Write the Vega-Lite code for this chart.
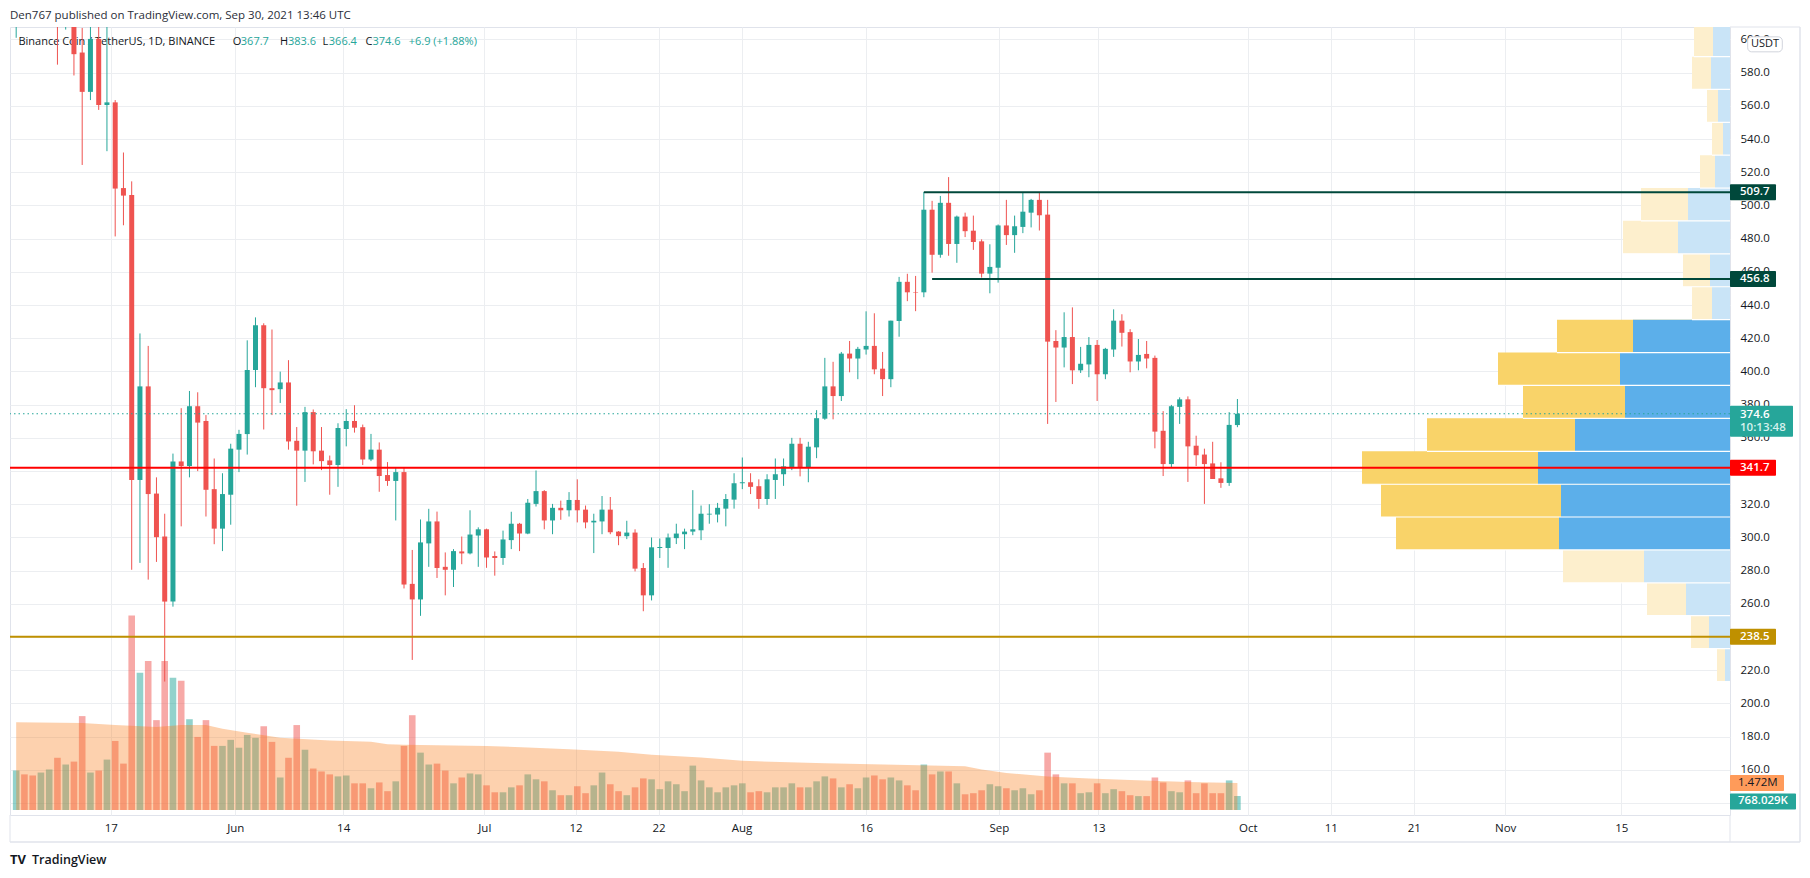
{
"$schema": "https://vega.github.io/schema/vega-lite/v6.json",
"width": 1720, "height": 788,
"autosize": {"type": "none"},
"padding": {"left": 10, "top": 27, "right": 80, "bottom": 63},
"background": "#ffffff",
"config": {"font": "Open Sans", "view": {"stroke": "#E0E3EB", "strokeWidth": 1}},
"title": {"text": "Den767 published on TradingView.com, Sep 30, 2021 13:46 UTC", "anchor": "start", "frame": "group", "offset": -1, "baseline": "middle", "fontSize": 11.5, "fontWeight": "normal", "color": "#2A2E39", "font": "Open Sans"},
"datasets": {
"candles": [
{"d":"2021-05-05","o":612,"h":665,"l":604,"c":655,"v":2.16},
{"d":"2021-05-06","o":655,"h":668,"l":628,"c":640,"v":1.95},
{"d":"2021-05-07","o":640,"h":655,"l":618,"c":630,"v":1.89},
{"d":"2021-05-08","o":630,"h":675,"l":625,"c":665,"v":2.05},
{"d":"2021-05-09","o":665,"h":672,"l":630,"c":668,"v":2.22},
{"d":"2021-05-10","o":668,"h":690,"l":587.6,"c":615,"v":2.86},
{"d":"2021-05-11","o":615,"h":645,"l":609,"c":640,"v":2.49},
{"d":"2021-05-12","o":640,"h":648,"l":581,"c":594,"v":2.65},
{"d":"2021-05-13","o":595,"h":610,"l":526.4,"c":571,"v":5.14},
{"d":"2021-05-14","o":571,"h":620,"l":566,"c":603.3,"v":2.05},
{"d":"2021-05-15","o":603.3,"h":612,"l":560,"c":563,"v":2.16},
{"d":"2021-05-16","o":563,"h":615,"l":534.8,"c":564.6,"v":2.76},
{"d":"2021-05-17","o":564.6,"h":566,"l":482.8,"c":512,"v":3.78},
{"d":"2021-05-18","o":512.3,"h":534,"l":489.6,"c":507.7,"v":2.54},
{"d":"2021-05-19","o":508,"h":516.4,"l":279.4,"c":334.2,"v":10.65},
{"d":"2021-05-20","o":334.2,"h":423.6,"l":283.6,"c":391.3,"v":7.51},
{"d":"2021-05-21","o":391.3,"h":416,"l":273.4,"c":325.6,"v":8.16},
{"d":"2021-05-22","o":325.9,"h":335.8,"l":284.2,"c":299.3,"v":4.92},
{"d":"2021-05-23","o":299.7,"h":313.6,"l":211.2,"c":260,"v":8.16},
{"d":"2021-05-24","o":260,"h":350.3,"l":256.9,"c":345.5,"v":7.24},
{"d":"2021-05-25","o":345.5,"h":378,"l":305.9,"c":342.7,"v":7.08},
{"d":"2021-05-26","o":342.7,"h":388.5,"l":335.8,"c":379.2,"v":4.97},
{"d":"2021-05-27","o":379.2,"h":387.7,"l":339.6,"c":369.2,"v":4.0},
{"d":"2021-05-28","o":370.2,"h":373.8,"l":311.9,"c":328.2,"v":4.92},
{"d":"2021-05-29","o":328.6,"h":347.3,"l":295,"c":304.5,"v":3.51},
{"d":"2021-05-30","o":304.5,"h":338.3,"l":290.8,"c":325.6,"v":3.51},
{"d":"2021-05-31","o":325.2,"h":356.3,"l":306.9,"c":353.3,"v":3.84},
{"d":"2021-06-01","o":352.7,"h":364.8,"l":339,"c":362.3,"v":3.41},
{"d":"2021-06-02","o":362.2,"h":419.4,"l":349.7,"c":401.3,"v":4.11},
{"d":"2021-06-03","o":401.3,"h":433.4,"l":390.8,"c":428.6,"v":3.95},
{"d":"2021-06-04","o":428.6,"h":429.8,"l":365,"c":390.2,"v":4.59},
{"d":"2021-06-05","o":390.2,"h":426,"l":373.8,"c":389,"v":3.73},
{"d":"2021-06-06","o":389.6,"h":400.3,"l":381.2,"c":393.7,"v":1.78},
{"d":"2021-06-07","o":393.7,"h":407.3,"l":352.7,"c":357.7,"v":2.86},
{"d":"2021-06-08","o":358.1,"h":366.5,"l":318.5,"c":352.1,"v":4.65},
{"d":"2021-06-09","o":352.1,"h":378.8,"l":333,"c":375.6,"v":3.30},
{"d":"2021-06-10","o":375.6,"h":377.2,"l":343.7,"c":351.7,"v":2.27},
{"d":"2021-06-11","o":352.1,"h":366.5,"l":340.2,"c":345.7,"v":2.11},
{"d":"2021-06-12","o":346.1,"h":349.1,"l":325.2,"c":343.3,"v":1.95},
{"d":"2021-06-13","o":343.3,"h":368.8,"l":330,"c":365.9,"v":1.84},
{"d":"2021-06-14","o":365.3,"h":377.4,"l":354.7,"c":370.2,"v":1.89},
{"d":"2021-06-15","o":370.2,"h":379.8,"l":363.1,"c":366.1,"v":1.46},
{"d":"2021-06-16","o":366.4,"h":368,"l":343.3,"c":346.7,"v":1.46},
{"d":"2021-06-17","o":346.7,"h":362.3,"l":345.7,"c":352.7,"v":1.19},
{"d":"2021-06-18","o":352.7,"h":357.1,"l":327,"c":336.6,"v":1.51},
{"d":"2021-06-19","o":337.2,"h":345.1,"l":330.6,"c":333.6,"v":1.03},
{"d":"2021-06-20","o":333.6,"h":341.5,"l":309.5,"c":339,"v":1.57},
{"d":"2021-06-21","o":339,"h":341.9,"l":268,"c":270.4,"v":3.51},
{"d":"2021-06-22","o":270.8,"h":291.5,"l":224.4,"c":261.3,"v":5.19},
{"d":"2021-06-23","o":261.3,"h":310.1,"l":251.3,"c":296.1,"v":3.14},
{"d":"2021-06-24","o":295.5,"h":316.6,"l":281.2,"c":308.9,"v":2.49},
{"d":"2021-06-25","o":308.9,"h":314.9,"l":274.4,"c":280.5,"v":2.54},
{"d":"2021-06-26","o":281.2,"h":290,"l":263.8,"c":279.4,"v":2.16},
{"d":"2021-06-27","o":279.4,"h":292,"l":268.9,"c":290.8,"v":1.46},
{"d":"2021-06-28","o":290.6,"h":299.7,"l":282.8,"c":289.4,"v":1.78},
{"d":"2021-06-29","o":289.4,"h":315.7,"l":288.8,"c":300.9,"v":2.0},
{"d":"2021-06-30","o":300.3,"h":305.3,"l":281.2,"c":304.1,"v":1.95},
{"d":"2021-07-01","o":304.1,"h":304.5,"l":280.6,"c":286.9,"v":1.35},
{"d":"2021-07-02","o":287.8,"h":290.6,"l":275.8,"c":286.6,"v":0.97},
{"d":"2021-07-03","o":286.6,"h":303.3,"l":282.4,"c":297.9,"v":0.97},
{"d":"2021-07-04","o":297.5,"h":314.8,"l":292,"c":307.5,"v":1.24},
{"d":"2021-07-05","o":307.5,"h":308,"l":290.8,"c":301.5,"v":1.35},
{"d":"2021-07-06","o":301.5,"h":322.6,"l":301.1,"c":320.3,"v":1.95},
{"d":"2021-07-07","o":319.6,"h":340,"l":318,"c":327.4,"v":1.68},
{"d":"2021-07-08","o":327.4,"h":328,"l":304.1,"c":309.5,"v":1.57},
{"d":"2021-07-09","o":309.5,"h":319.6,"l":301.1,"c":317.2,"v":1.08},
{"d":"2021-07-10","o":317.2,"h":321.6,"l":309.9,"c":315.7,"v":0.81},
{"d":"2021-07-11","o":315.7,"h":326.8,"l":311.9,"c":322,"v":0.81},
{"d":"2021-07-12","o":322,"h":334.6,"l":308.3,"c":315.7,"v":1.30},
{"d":"2021-07-13","o":316.1,"h":318.6,"l":304.7,"c":308.3,"v":0.92},
{"d":"2021-07-14","o":308.3,"h":313.6,"l":289.6,"c":309.3,"v":1.35},
{"d":"2021-07-15","o":308.9,"h":324.4,"l":301.1,"c":316.1,"v":2.05},
{"d":"2021-07-16","o":316.1,"h":323.8,"l":301.1,"c":302.3,"v":1.41},
{"d":"2021-07-17","o":302.7,"h":303,"l":294.4,"c":299.9,"v":1.03},
{"d":"2021-07-18","o":299.9,"h":309.3,"l":298.1,"c":302.1,"v":0.81},
{"d":"2021-07-19","o":302.1,"h":304.1,"l":278.4,"c":280.1,"v":1.24},
{"d":"2021-07-20","o":280.5,"h":283.5,"l":254.1,"c":263.8,"v":1.73},
{"d":"2021-07-21","o":263.8,"h":299.1,"l":260.7,"c":293.1,"v":1.68},
{"d":"2021-07-22","o":292.7,"h":298.5,"l":286.6,"c":293.3,"v":1.14},
{"d":"2021-07-23","o":292.7,"h":301.5,"l":280.6,"c":299.1,"v":1.57},
{"d":"2021-07-24","o":298.7,"h":307.5,"l":295.1,"c":301.5,"v":1.41},
{"d":"2021-07-25","o":301.1,"h":304.5,"l":292,"c":302.7,"v":1.03},
{"d":"2021-07-26","o":302.7,"h":328,"l":300.5,"c":304.1,"v":2.43},
{"d":"2021-07-27","o":303.5,"h":318.6,"l":297.5,"c":313.6,"v":1.62},
{"d":"2021-07-28","o":313.1,"h":319.4,"l":307.5,"c":313.6,"v":1.24},
{"d":"2021-07-29","o":313.1,"h":320.2,"l":308.3,"c":317.2,"v":0.97},
{"d":"2021-07-30","o":316.7,"h":325.6,"l":305.9,"c":322.6,"v":1.24},
{"d":"2021-07-31","o":322.2,"h":338.3,"l":316.7,"c":332.2,"v":1.35},
{"d":"2021-08-01","o":332.2,"h":347.9,"l":328.6,"c":332.8,"v":1.46},
{"d":"2021-08-02","o":332.8,"h":338.3,"l":325.6,"c":330,"v":0.97},
{"d":"2021-08-03","o":330.4,"h":334.6,"l":316.6,"c":322.6,"v":1.03},
{"d":"2021-08-04","o":322.6,"h":337.7,"l":319,"c":334.6,"v":0.97},
{"d":"2021-08-05","o":334.2,"h":347.3,"l":322.6,"c":337.7,"v":1.24},
{"d":"2021-08-06","o":337.7,"h":347.3,"l":330.6,"c":342.5,"v":1.24},
{"d":"2021-08-07","o":342.1,"h":359.9,"l":340.2,"c":356.3,"v":1.46},
{"d":"2021-08-08","o":356.3,"h":359.9,"l":336.4,"c":342.1,"v":1.24},
{"d":"2021-08-09","o":341.5,"h":357.5,"l":332.8,"c":354.5,"v":1.24},
{"d":"2021-08-10","o":354.1,"h":376.8,"l":347.5,"c":371.9,"v":1.57},
{"d":"2021-08-11","o":371.6,"h":408.7,"l":370.9,"c":391.3,"v":1.84},
{"d":"2021-08-12","o":391.3,"h":406.3,"l":371.2,"c":385.4,"v":1.73},
{"d":"2021-08-13","o":385.4,"h":412.3,"l":382.4,"c":411.3,"v":1.24},
{"d":"2021-08-14","o":411.3,"h":419,"l":399.9,"c":408.3,"v":1.41},
{"d":"2021-08-15","o":408.3,"h":415.4,"l":395.7,"c":414.2,"v":1.19},
{"d":"2021-08-16","o":413.8,"h":437.1,"l":410.7,"c":416,"v":1.78},
{"d":"2021-08-17","o":416,"h":435.9,"l":398.7,"c":401.7,"v":1.89},
{"d":"2021-08-18","o":402.1,"h":412.3,"l":385.4,"c":395.7,"v":1.68},
{"d":"2021-08-19","o":395.7,"h":431.4,"l":390.8,"c":431.4,"v":1.78},
{"d":"2021-08-20","o":431.2,"h":458.1,"l":421.6,"c":455.1,"v":1.62},
{"d":"2021-08-21","o":455.1,"h":460,"l":443.3,"c":448.7,"v":1.35},
{"d":"2021-08-22","o":448.9,"h":458.7,"l":437.2,"c":448.6,"v":1.08},
{"d":"2021-08-23","o":448.7,"h":509.9,"l":445.7,"c":499.1,"v":2.49},
{"d":"2021-08-24","o":499.1,"h":504.5,"l":460.7,"c":471.6,"v":1.95},
{"d":"2021-08-25","o":471.6,"h":507.5,"l":469.8,"c":503.3,"v":2.11},
{"d":"2021-08-26","o":503.3,"h":519,"l":471,"c":478.2,"v":2.11},
{"d":"2021-08-27","o":478.2,"h":495.5,"l":466.7,"c":494.9,"v":1.46},
{"d":"2021-08-28","o":494.9,"h":497.3,"l":482.4,"c":486,"v":0.86},
{"d":"2021-08-29","o":486.3,"h":495.5,"l":474.6,"c":479.4,"v":0.92},
{"d":"2021-08-30","o":479.8,"h":481,"l":457.7,"c":460.1,"v":1.08},
{"d":"2021-08-31","o":460.1,"h":478,"l":448.1,"c":464.2,"v":1.41},
{"d":"2021-09-01","o":463.7,"h":490.1,"l":454.6,"c":489.5,"v":1.30},
{"d":"2021-09-02","o":489.5,"h":505.1,"l":477.6,"c":483.6,"v":1.19},
{"d":"2021-09-03","o":483.6,"h":495.5,"l":472.8,"c":489,"v":1.08},
{"d":"2021-09-04","o":488.6,"h":509.9,"l":484.8,"c":497.9,"v":1.19},
{"d":"2021-09-05","o":497.3,"h":505.7,"l":488.3,"c":505.1,"v":0.86},
{"d":"2021-09-06","o":505.1,"h":509.9,"l":486.4,"c":495.7,"v":1.08},
{"d":"2021-09-07","o":496.1,"h":505.1,"l":368.4,"c":418.6,"v":3.14},
{"d":"2021-09-08","o":419,"h":425.6,"l":381.8,"c":415,"v":1.95},
{"d":"2021-09-09","o":415,"h":436.5,"l":402.9,"c":421.4,"v":1.46},
{"d":"2021-09-10","o":421.4,"h":439.5,"l":392.7,"c":401.1,"v":1.46},
{"d":"2021-09-11","o":401.1,"h":415.4,"l":399.5,"c":405.1,"v":0.92},
{"d":"2021-09-12","o":404.7,"h":421.4,"l":396.9,"c":416.6,"v":0.97},
{"d":"2021-09-13","o":416.6,"h":419.6,"l":382.4,"c":398.7,"v":1.46},
{"d":"2021-09-14","o":398.7,"h":414.8,"l":395.7,"c":414.2,"v":0.92},
{"d":"2021-09-15","o":413.8,"h":438.3,"l":409.3,"c":431.4,"v":1.14},
{"d":"2021-09-16","o":431.4,"h":435.3,"l":415.6,"c":424,"v":1.03},
{"d":"2021-09-17","o":424.4,"h":426.2,"l":399.9,"c":406.5,"v":0.81},
{"d":"2021-09-18","o":406.5,"h":420.2,"l":401.1,"c":410.5,"v":0.76},
{"d":"2021-09-19","o":411.1,"h":419,"l":402.3,"c":408.3,"v":0.76},
{"d":"2021-09-20","o":408.7,"h":410.1,"l":353.5,"c":363.7,"v":1.78},
{"d":"2021-09-21","o":364.2,"h":376.2,"l":336.6,"c":343.9,"v":1.51},
{"d":"2021-09-22","o":343.9,"h":380,"l":342.1,"c":379.2,"v":1.03},
{"d":"2021-09-23","o":378.8,"h":384.6,"l":368.4,"c":383.4,"v":0.97},
{"d":"2021-09-24","o":383.4,"h":385.2,"l":333,"c":354.7,"v":1.62},
{"d":"2021-09-25","o":355.1,"h":361.2,"l":342.7,"c":349.3,"v":0.92},
{"d":"2021-09-26","o":349.7,"h":353.3,"l":319.6,"c":343.9,"v":1.46},
{"d":"2021-09-27","o":344.3,"h":357.5,"l":334.8,"c":334.8,"v":0.92},
{"d":"2021-09-28","o":335.2,"h":345,"l":329.4,"c":332.4,"v":0.92},
{"d":"2021-09-29","o":332.4,"h":375.6,"l":330.6,"c":367.8,"v":1.62},
{"d":"2021-09-30","o":367.7,"h":383.6,"l":366.4,"c":374.6,"v":0.768}
],
"ma": [
{"d":"2021-05-05","ma":4.81},{"d":"2021-05-13","ma":4.76},{"d":"2021-05-17","ma":4.65},{"d":"2021-05-22","ma":4.54},
{"d":"2021-05-25","ma":4.65},{"d":"2021-05-28","ma":4.65},{"d":"2021-05-30","ma":4.45},{"d":"2021-06-02","ma":4.23},
{"d":"2021-06-06","ma":3.95},{"d":"2021-06-12","ma":3.80},{"d":"2021-06-17","ma":3.73},{"d":"2021-06-19","ma":3.60},
{"d":"2021-06-21","ma":3.57},{"d":"2021-07-01","ma":3.51},{"d":"2021-07-06","ma":3.42},{"d":"2021-07-11","ma":3.33},
{"d":"2021-07-17","ma":3.19},{"d":"2021-07-21","ma":3.03},{"d":"2021-07-27","ma":2.88},{"d":"2021-08-01","ma":2.69},
{"d":"2021-08-11","ma":2.56},{"d":"2021-08-21","ma":2.47},{"d":"2021-08-28","ma":2.39},{"d":"2021-08-30","ma":2.22},
{"d":"2021-09-02","ma":2.02},{"d":"2021-09-07","ma":1.84},{"d":"2021-09-12","ma":1.73},{"d":"2021-09-17","ma":1.64},
{"d":"2021-09-24","ma":1.53},{"d":"2021-09-30","ma":1.472}
],
"profile": [
{"lo":592.5,"hi":612.6,"vol":36,"upvol":17,"va":false},
{"lo":572.5,"hi":592.5,"vol":38,"upvol":19,"va":false},
{"lo":552.4,"hi":572.5,"vol":23,"upvol":12,"va":false},
{"lo":532.4,"hi":552.4,"vol":18,"upvol":7,"va":false},
{"lo":512.3,"hi":532.4,"vol":30,"upvol":15,"va":false},
{"lo":492.3,"hi":512.3,"vol":89,"upvol":42,"va":false},
{"lo":472.2,"hi":492.3,"vol":107,"upvol":52,"va":false},
{"lo":452.1,"hi":472.2,"vol":47,"upvol":20,"va":false},
{"lo":432.0,"hi":452.1,"vol":38,"upvol":18,"va":false},
{"lo":411.9,"hi":432.0,"vol":173,"upvol":97,"va":true},
{"lo":391.9,"hi":411.9,"vol":232,"upvol":110,"va":true},
{"lo":371.8,"hi":391.9,"vol":207,"upvol":105,"va":true},
{"lo":351.7,"hi":371.8,"vol":303,"upvol":155,"va":true},
{"lo":331.6,"hi":351.7,"vol":368,"upvol":192,"va":true},
{"lo":311.6,"hi":331.6,"vol":349,"upvol":169,"va":true},
{"lo":291.5,"hi":311.6,"vol":334,"upvol":171,"va":true},
{"lo":271.4,"hi":291.5,"vol":167,"upvol":86,"va":false},
{"lo":251.4,"hi":271.4,"vol":83,"upvol":44,"va":false},
{"lo":231.3,"hi":251.4,"vol":39,"upvol":21,"va":false},
{"lo":211.2,"hi":231.3,"vol":13,"upvol":5,"va":false}
]
},
"layer": [
{
 "data": {"name": "candles"},
 "mark": {"type": "rule", "opacity": 0, "clip": true},
 "encoding": {
  "x": {"field": "d", "type": "temporal", "title": null,
    "scale": {"type": "utc", "domain": [{"year": 2021, "month": 5, "date": 4, "hours": 20, "minutes": 34, "utc": true}, {"year": 2021, "month": 11, "date": 28, "hours": 2, "minutes": 10, "utc": true}]},
    "axis": {"orient": "bottom", "values": [{"year":2021,"month":5,"date":17,"utc":true},{"year":2021,"month":6,"date":1,"utc":true},{"year":2021,"month":6,"date":14,"utc":true},{"year":2021,"month":7,"date":1,"utc":true},{"year":2021,"month":7,"date":12,"utc":true},{"year":2021,"month":7,"date":22,"utc":true},{"year":2021,"month":8,"date":1,"utc":true},{"year":2021,"month":8,"date":16,"utc":true},{"year":2021,"month":9,"date":1,"utc":true},{"year":2021,"month":9,"date":13,"utc":true},{"year":2021,"month":10,"date":1,"utc":true},{"year":2021,"month":10,"date":11,"utc":true},{"year":2021,"month":10,"date":21,"utc":true},{"year":2021,"month":11,"date":1,"utc":true},{"year":2021,"month":11,"date":15,"utc":true}],
      "labelExpr": "utcdate(datum.value) == 1 ? utcFormat(datum.value, '%b') : utcFormat(datum.value, '%-d')",
      "grid": true, "gridColor": "#ECEEF1", "domain": false, "ticks": false, "labelPadding": 13, "labelBaseline": "middle", "labelFontSize": 11.5, "labelColor": "#131722", "labelOverlap": false, "labelFlush": false, "title": null}},
  "y": {"field": "l", "type": "quantitative", "title": null,
    "scale": {"domain": [132.83, 607.53], "zero": false, "nice": false},
    "axis": {"orient": "right", "values": [140,160,180,200,220,240,260,280,300,320,340,360,380,400,420,440,460,480,500,520,540,560,580,600], "format": ".1f", "grid": true, "gridColor": "#ECEEF1", "domain": false, "ticks": false, "labelPadding": 10, "labelFontSize": 11.5, "labelColor": "#131722", "labelOverlap": false, "labelFlush": false, "labelBound": false, "title": null}}
 }
},
{
 "data": {"name": "profile"},
 "layer": [
  {"mark": {"type": "bar", "orient": "horizontal", "clip": true},
   "encoding": {
    "x": {"field": "vol", "type": "quantitative", "title": null, "axis": null, "scale": {"domain": [0, 1720], "reverse": true, "nice": false, "zero": false}},
    "x2": {"datum": 0},
    "y": {"field": "lo", "type": "quantitative", "title": null, "axis": null, "scale": {"domain": [132.83, 607.53], "zero": false, "nice": false}},
    "y2": {"field": "hi"},
    "color": {"condition": {"test": "datum.va", "value": "#F9D369"}, "value": "#FDEFCD"}
   }},
  {"mark": {"type": "bar", "orient": "horizontal", "clip": true},
   "encoding": {
    "x": {"field": "upvol", "type": "quantitative", "title": null, "axis": null, "scale": {"domain": [0, 1720], "reverse": true, "nice": false, "zero": false}},
    "x2": {"datum": 0},
    "y": {"field": "lo", "type": "quantitative", "title": null, "axis": null, "scale": {"domain": [132.83, 607.53], "zero": false, "nice": false}},
    "y2": {"field": "hi"},
    "color": {"condition": {"test": "datum.va", "value": "#5CAFEA"}, "value": "#C9E4F7"}
   }},
  {"mark": {"type": "rule", "color": "#ffffff", "strokeWidth": 1.2, "clip": true},
   "encoding": {
    "x": {"field": "vol", "type": "quantitative", "title": null, "axis": null, "scale": {"domain": [0, 1720], "reverse": true, "nice": false, "zero": false}},
    "x2": {"datum": 0},
    "y": {"field": "lo", "type": "quantitative", "title": null, "axis": null, "scale": {"domain": [132.83, 607.53], "zero": false, "nice": false}}
   }}
 ]
},
{
 "layer": [
  {"data": {"name": "candles"},
   "mark": {"type": "bar", "size": 6.6, "opacity": 0.5, "clip": true},
   "encoding": {
    "x": {"field": "d", "type": "temporal", "title": null, "axis": null, "scale": {"type": "utc", "domain": [{"year": 2021, "month": 5, "date": 4, "hours": 20, "minutes": 34, "utc": true}, {"year": 2021, "month": 11, "date": 28, "hours": 2, "minutes": 10, "utc": true}]}},
    "y": {"field": "v", "type": "quantitative", "title": null, "axis": null, "scale": {"domain": [0, 42.595], "nice": false, "zero": true}},
    "y2": {"datum": 0},
    "color": {"condition": {"test": "datum.c >= datum.o", "value": "#26A69A"}, "value": "#EF5350"}
   }},
  {"data": {"name": "ma"},
   "mark": {"type": "area", "color": "#FA7A18", "opacity": 0.35, "clip": true},
   "encoding": {
    "x": {"field": "d", "type": "temporal", "title": null, "axis": null, "scale": {"type": "utc", "domain": [{"year": 2021, "month": 5, "date": 4, "hours": 20, "minutes": 34, "utc": true}, {"year": 2021, "month": 11, "date": 28, "hours": 2, "minutes": 10, "utc": true}]}},
    "y": {"field": "ma", "type": "quantitative", "title": null, "axis": null, "scale": {"domain": [0, 42.595], "nice": false, "zero": true}},
    "y2": {"datum": 0}
   }},
  {"data": {"values": [{}]},
   "mark": {"type": "bar", "orient": "horizontal", "size": 16, "color": "#FF9B5A", "clip": false, "cornerRadius": 1},
   "encoding": {"y": {"datum": 1.472, "scale": {"domain": [0, 42.595], "nice": false, "zero": true}, "axis": null}, "x": {"value": {"expr": "width"}}, "x2": {"value": {"expr": "width + 54"}}}},
  {"data": {"values": [{}]},
   "mark": {"type": "text", "align": "left", "baseline": "middle", "fontSize": 11.5, "color": "#131722", "dx": 8},
   "encoding": {"y": {"datum": 1.472, "scale": {"domain": [0, 42.595], "nice": false, "zero": true}, "axis": null}, "x": {"value": {"expr": "width"}}, "text": {"value": "1.472M"}}},
  {"data": {"values": [{}]},
   "mark": {"type": "bar", "orient": "horizontal", "size": 16, "color": "#26A69A", "clip": false, "yOffset": 5.5, "cornerRadius": 1},
   "encoding": {"y": {"datum": 0.768, "scale": {"domain": [0, 42.595], "nice": false, "zero": true}, "axis": null}, "x": {"value": {"expr": "width"}}, "x2": {"value": {"expr": "width + 66"}}}},
  {"data": {"values": [{}]},
   "mark": {"type": "text", "align": "left", "baseline": "middle", "fontSize": 11.5, "color": "#ffffff", "fontWeight": 600, "dx": 8, "dy": 5.5},
   "encoding": {"y": {"datum": 0.768, "scale": {"domain": [0, 42.595], "nice": false, "zero": true}, "axis": null}, "x": {"value": {"expr": "width"}}, "text": {"value": "768.029K"}}}
 ]
},
{
 "layer": [
  {"data": {"values": [{}]}, "mark": {"type": "text", "align": "left", "baseline": "middle", "fontSize": 11, "color": "#131722"},
   "encoding": {"x": {"value": 8.4}, "y": {"value": 15.3}, "text": {"value": "Binance Coin / TetherUS, 1D, BINANCE"}}},
  {"data": {"values": [{}]}, "mark": {"type": "text", "align": "left", "baseline": "middle", "fontSize": 11, "color": "#131722"},
   "encoding": {"x": {"value": 222.7}, "y": {"value": 15.3}, "text": {"value": "O"}}},
  {"data": {"values": [{}]}, "mark": {"type": "text", "align": "left", "baseline": "middle", "fontSize": 11, "color": "#26A69A"},
   "encoding": {"x": {"value": 230.8}, "y": {"value": 15.3}, "text": {"value": "367.7"}}},
  {"data": {"values": [{}]}, "mark": {"type": "text", "align": "left", "baseline": "middle", "fontSize": 11, "color": "#131722"},
   "encoding": {"x": {"value": 270}, "y": {"value": 15.3}, "text": {"value": "H"}}},
  {"data": {"values": [{}]}, "mark": {"type": "text", "align": "left", "baseline": "middle", "fontSize": 11, "color": "#26A69A"},
   "encoding": {"x": {"value": 278}, "y": {"value": 15.3}, "text": {"value": "383.6"}}},
  {"data": {"values": [{}]}, "mark": {"type": "text", "align": "left", "baseline": "middle", "fontSize": 11, "color": "#131722"},
   "encoding": {"x": {"value": 312.6}, "y": {"value": 15.3}, "text": {"value": "L"}}},
  {"data": {"values": [{}]}, "mark": {"type": "text", "align": "left", "baseline": "middle", "fontSize": 11, "color": "#26A69A"},
   "encoding": {"x": {"value": 318.8}, "y": {"value": 15.3}, "text": {"value": "366.4"}}},
  {"data": {"values": [{}]}, "mark": {"type": "text", "align": "left", "baseline": "middle", "fontSize": 11, "color": "#131722"},
   "encoding": {"x": {"value": 355.5}, "y": {"value": 15.3}, "text": {"value": "C"}}},
  {"data": {"values": [{}]}, "mark": {"type": "text", "align": "left", "baseline": "middle", "fontSize": 11, "color": "#26A69A"},
   "encoding": {"x": {"value": 362.5}, "y": {"value": 15.3}, "text": {"value": "374.6"}}},
  {"data": {"values": [{}]}, "mark": {"type": "text", "align": "left", "baseline": "middle", "fontSize": 11, "color": "#26A69A"},
   "encoding": {"x": {"value": 398.7}, "y": {"value": 15.3}, "text": {"value": "+6.9 (+1.88%)"}}},
  {"data": {"name": "candles"},
   "mark": {"type": "rule", "strokeWidth": 1, "clip": true},
   "encoding": {
    "x": {"field": "d", "type": "temporal", "title": null, "axis": null, "scale": {"type": "utc", "domain": [{"year": 2021, "month": 5, "date": 4, "hours": 20, "minutes": 34, "utc": true}, {"year": 2021, "month": 11, "date": 28, "hours": 2, "minutes": 10, "utc": true}]}},
    "y": {"field": "l", "type": "quantitative", "title": null, "axis": null, "scale": {"domain": [132.83, 607.53], "zero": false, "nice": false}},
    "y2": {"field": "h"},
    "color": {"condition": {"test": "datum.c >= datum.o", "value": "#26A69A"}, "value": "#EF5350"}
   }},
  {"data": {"name": "candles"},
   "mark": {"type": "bar", "size": 5, "clip": true},
   "encoding": {
    "x": {"field": "d", "type": "temporal", "title": null, "axis": null, "scale": {"type": "utc", "domain": [{"year": 2021, "month": 5, "date": 4, "hours": 20, "minutes": 34, "utc": true}, {"year": 2021, "month": 11, "date": 28, "hours": 2, "minutes": 10, "utc": true}]}},
    "y": {"field": "o", "type": "quantitative", "title": null, "axis": null, "scale": {"domain": [132.83, 607.53], "zero": false, "nice": false}},
    "y2": {"field": "c"},
    "color": {"condition": {"test": "datum.c >= datum.o", "value": "#26A69A"}, "value": "#EF5350"}
   }},
  {"data": {"values": [{}]}, "mark": {"type": "rule", "color": "#26A69A", "strokeWidth": 1, "strokeDash": [1.5, 3], "clip": true},
   "encoding": {"y": {"datum": 374.6, "axis": null, "scale": {"domain": [132.83, 607.53], "zero": false, "nice": false}}}},
  {"data": {"values": [{}]}, "mark": {"type": "rule", "color": "#FF0000", "strokeWidth": 2, "clip": true},
   "encoding": {"y": {"datum": 341.7, "axis": null, "scale": {"domain": [132.83, 607.53], "zero": false, "nice": false}}}},
  {"data": {"values": [{}]}, "mark": {"type": "rule", "color": "#BF9000", "strokeWidth": 2, "clip": true},
   "encoding": {"y": {"datum": 238.5, "axis": null, "scale": {"domain": [132.83, 607.53], "zero": false, "nice": false}}}},
  {"data": {"values": [{}]}, "mark": {"type": "rule", "color": "#00483B", "strokeWidth": 2, "clip": true},
   "encoding": {
    "y": {"datum": 509.7, "axis": null, "scale": {"domain": [132.83, 607.53], "zero": false, "nice": false}},
    "x": {"datum": {"year": 2021, "month": 8, "date": 23, "utc": true}, "type": "temporal", "axis": null, "scale": {"type": "utc", "domain": [{"year": 2021, "month": 5, "date": 4, "hours": 20, "minutes": 34, "utc": true}, {"year": 2021, "month": 11, "date": 28, "hours": 2, "minutes": 10, "utc": true}]}},
    "x2": {"datum": {"year": 2021, "month": 11, "date": 30, "utc": true}}}},
  {"data": {"values": [{}]}, "mark": {"type": "rule", "color": "#00483B", "strokeWidth": 2, "clip": true},
   "encoding": {
    "y": {"datum": 456.8, "axis": null, "scale": {"domain": [132.83, 607.53], "zero": false, "nice": false}},
    "x": {"datum": {"year": 2021, "month": 8, "date": 24, "utc": true}, "type": "temporal", "axis": null, "scale": {"type": "utc", "domain": [{"year": 2021, "month": 5, "date": 4, "hours": 20, "minutes": 34, "utc": true}, {"year": 2021, "month": 11, "date": 28, "hours": 2, "minutes": 10, "utc": true}]}},
    "x2": {"datum": {"year": 2021, "month": 11, "date": 30, "utc": true}}}},
  {"data": {"values": [{}]}, "mark": {"type": "rule", "color": "#E0E3EB", "strokeWidth": 1, "clip": false},
   "encoding": {"x": {"value": {"expr": "width"}}, "y": {"value": {"expr": "height"}}, "y2": {"value": {"expr": "height + 27"}}}},
  {"data": {"values": [{}]}, "mark": {"type": "rule", "color": "#E0E3EB", "strokeWidth": 1, "clip": false},
   "encoding": {"x": {"value": 0}, "y": {"value": {"expr": "height"}}, "y2": {"value": {"expr": "height + 27"}}}},
  {"data": {"values": [{}]}, "mark": {"type": "rule", "color": "#E0E3EB", "strokeWidth": 1.5, "clip": false},
   "encoding": {"x": {"value": 0}, "x2": {"value": {"expr": "width + 70"}}, "y": {"value": {"expr": "height + 27"}}}},
  {"data": {"values": [{}]}, "mark": {"type": "rule", "color": "#E0E3EB", "strokeWidth": 1.5, "clip": false},
   "encoding": {"x": {"value": {"expr": "width + 70"}}, "y": {"value": 0}, "y2": {"value": {"expr": "height + 27"}}}},
  {"data": {"values": [{}]}, "mark": {"type": "rule", "color": "#E0E3EB", "strokeWidth": 1, "clip": false},
   "encoding": {"x": {"value": {"expr": "width"}}, "x2": {"value": {"expr": "width + 70"}}, "y": {"value": 0}}},
  {"data": {"values": [{"p": 509.7, "k": "a"}, {"p": 456.8, "k": "a"}, {"p": 341.7, "k": "b"}, {"p": 238.5, "k": "c"}]},
   "mark": {"type": "bar", "orient": "horizontal", "size": 16, "clip": false, "cornerRadius": 1},
   "encoding": {
    "y": {"field": "p", "type": "quantitative", "title": null, "axis": null, "scale": {"domain": [132.83, 607.53], "zero": false, "nice": false}},
    "x": {"value": {"expr": "width"}}, "x2": {"value": {"expr": "width + 46"}},
    "color": {"field": "k", "type": "nominal", "legend": null, "scale": {"domain": ["a", "b", "c"], "range": ["#00483B", "#FF0000", "#BF9000"]}}}},
  {"data": {"values": [{"p": 509.7}, {"p": 456.8}, {"p": 341.7}, {"p": 238.5}]},
   "mark": {"type": "text", "align": "left", "baseline": "middle", "fontSize": 11.5, "fontWeight": 600, "color": "#ffffff", "dx": 10},
   "encoding": {
    "y": {"field": "p", "type": "quantitative", "title": null, "axis": null, "scale": {"domain": [132.83, 607.53], "zero": false, "nice": false}},
    "x": {"value": {"expr": "width"}},
    "text": {"field": "p", "format": ".1f"}}},
  {"data": {"values": [{}]},
   "mark": {"type": "bar", "orient": "horizontal", "size": 31, "color": "#26A69A", "clip": false, "yOffset": 7.5, "cornerRadius": 1},
   "encoding": {"y": {"datum": 374.6, "axis": null, "scale": {"domain": [132.83, 607.53], "zero": false, "nice": false}}, "x": {"value": {"expr": "width"}}, "x2": {"value": {"expr": "width + 63"}}}},
  {"data": {"values": [{}]},
   "mark": {"type": "text", "align": "left", "baseline": "middle", "fontSize": 11.5, "fontWeight": 600, "color": "#ffffff", "dx": 10, "dy": 1.3},
   "encoding": {"y": {"datum": 374.6, "axis": null, "scale": {"domain": [132.83, 607.53], "zero": false, "nice": false}}, "x": {"value": {"expr": "width"}}, "text": {"value": "374.6"}}},
  {"data": {"values": [{}]},
   "mark": {"type": "text", "align": "left", "baseline": "middle", "fontSize": 11.5, "fontWeight": 600, "color": "#D5F1ED", "dx": 10, "dy": 14.6},
   "encoding": {"y": {"datum": 374.6, "axis": null, "scale": {"domain": [132.83, 607.53], "zero": false, "nice": false}}, "x": {"value": {"expr": "width"}}, "text": {"value": "10:13:48"}}},
  {"data": {"values": [{}]},
   "mark": {"type": "bar", "orient": "horizontal", "size": 15, "color": "#ffffff", "stroke": "#D1D4DC", "strokeWidth": 1, "cornerRadius": 4, "clip": false},
   "encoding": {"y": {"datum": 600, "axis": null, "scale": {"domain": [132.83, 607.53], "zero": false, "nice": false}}, "x": {"value": {"expr": "width + 17.7"}}, "x2": {"value": {"expr": "width + 52.3"}}}},
  {"data": {"values": [{}]},
   "mark": {"type": "text", "align": "center", "baseline": "middle", "fontSize": 11, "color": "#131722"},
   "encoding": {"y": {"datum": 600, "axis": null, "scale": {"domain": [132.83, 607.53], "zero": false, "nice": false}}, "x": {"value": {"expr": "width + 35"}}, "text": {"value": "USDT"}}},
  {"data": {"values": [{}]}, "mark": {"type": "text", "align": "left", "baseline": "middle", "fontSize": 13, "fontWeight": "bold", "color": "#131722"},
   "encoding": {"x": {"value": 0}, "y": {"value": {"expr": "height + 45"}}, "text": {"value": "TV"}}},
  {"data": {"values": [{}]}, "mark": {"type": "text", "align": "left", "baseline": "middle", "fontSize": 12.5, "fontWeight": 600, "color": "#131722"},
   "encoding": {"x": {"value": 22}, "y": {"value": {"expr": "height + 45"}}, "text": {"value": "TradingView"}}}
 ]
}
],
"resolve": {"scale": {"x": "independent", "y": "independent"}}
}
